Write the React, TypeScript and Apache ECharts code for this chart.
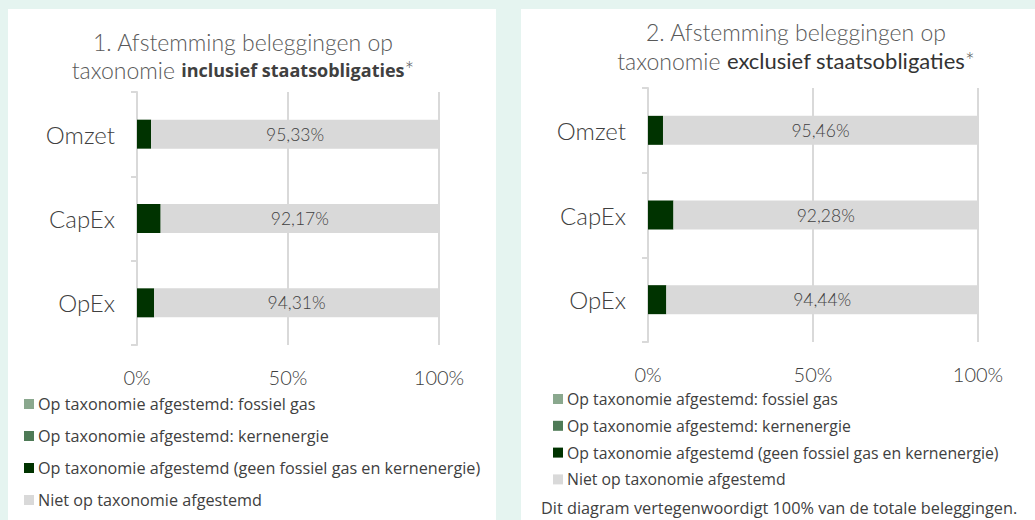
import React, { useEffect, useRef } from "react";
import * as echarts from "echarts";

const categories = ["Omzet", "CapEx", "OpEx"];
const seriesNames = [
  "Op taxonomie afgestemd: fossiel gas",
  "Op taxonomie afgestemd: kernenergie",
  "Op taxonomie afgestemd (geen fossiel gas en kernenergie)",
  "Niet op taxonomie afgestemd",
];
const seriesColors = ["#8aa88e", "#4e7a56", "#003300", "#d9d9d9"];

// Chart 1: inclusief staatsobligaties
const incFossilGas = [0, 0, 0];
const incNuclear = [0, 0, 0];
const incAligned = [4.67, 7.83, 5.69];
const incNotAligned = [95.33, 92.17, 94.31];

// Chart 2: exclusief staatsobligaties
const excFossilGas = [0, 0, 0];
const excNuclear = [0, 0, 0];
const excAligned = [4.54, 7.72, 5.56];
const excNotAligned = [95.46, 92.28, 94.44];

const xTicks = [0, 50, 100];

const TEXT = "#404040";
const GRID = "#d9d9d9";
const FONT = "Lato, 'Open Sans', sans-serif";
const LEGEND_FONT = "'Open Sans', 'Noto Sans', sans-serif";

const fmt = (v: number) => v.toFixed(2).replace(".", ",") + "%";

export default function App() {
  const ref = useRef<HTMLDivElement>(null);
  useEffect(() => {
    if (!ref.current) return;
    const chart = echarts.init(ref.current, undefined, { renderer: "svg" });

    const makeSeries = (idx: number, data: number[][]) =>
      data.map((d, i) => ({
        name: seriesNames[i],
        type: "bar",
        stack: "s" + idx,
        xAxisIndex: idx,
        yAxisIndex: idx,
        barWidth: 29,
        data: d,
        itemStyle: { color: seriesColors[i] },
        label:
          i === 3
            ? {
                show: true,
                position: "inside",
                formatter: (p: any) => fmt(p.value),
                color: TEXT,
                fontSize: 17.5,
                fontFamily: FONT,
                fontWeight: 300,
              }
            : { show: false },
      }));

    const xAxis = (idx: number) => ({
      type: "value",
      gridIndex: idx,
      min: xTicks[0],
      max: xTicks[xTicks.length - 1],
      interval: xTicks[1] - xTicks[0],
      axisLine: { show: false },
      axisTick: { show: false },
      splitLine: { show: true, lineStyle: { color: GRID, width: 2 } },
      axisLabel: {
        color: TEXT,
        fontSize: 20,
        fontFamily: FONT,
        fontWeight: 300,
        margin: 22,
        formatter: (v: number) => v + "%",
      },
    });

    const yAxis = (idx: number) => ({
      type: "category",
      gridIndex: idx,
      data: categories,
      inverse: true,
      axisLine: { show: true, lineStyle: { color: GRID, width: 2 } },
      axisTick: { show: true, length: 6, lineStyle: { color: GRID, width: 2 } },
      axisLabel: {
        color: TEXT,
        fontSize: 24,
        fontFamily: FONT,
        fontWeight: 300,
        margin: 22,
      },
    });

    const legend = (top: number, left: number, gap: number, size: number) => ({
      orient: "vertical",
      left,
      top,
      itemWidth: 10,
      itemHeight: 10,
      itemGap: gap,
      icon: "rect",
      data: seriesNames,
      selectedMode: false,
      textStyle: {
        color: TEXT,
        fontSize: size,
        fontFamily: LEGEND_FONT,
        lineHeight: 16,
        padding: [0, 0, 0, -1],
      },
    });

    chart.setOption({
      animation: false,
      backgroundColor: "#e5f4f0",
      graphic: [
        { type: "rect", z: 0, shape: { x: 8, y: 9, width: 488, height: 520 }, style: { fill: "#ffffff" } },
        { type: "rect", z: 0, shape: { x: 521, y: 9, width: 520, height: 520 }, style: { fill: "#ffffff" } },
        {
          type: "text",
          z: 1,
          x: 243,
          y: 28,
          style: {
            text: "1. Afstemming beleggingen op\ntaxonomie {b|inclusief staatsobligaties}*",
            align: "center",
            fill: "#595959",
            fontSize: 23,
            fontFamily: FONT,
            fontWeight: 300,
            lineHeight: 28,
            rich: {
              b: {
                fontSize: 18,
                fontWeight: "bold",
                fontFamily: LEGEND_FONT,
                fill: "#404040",
                lineHeight: 28,
              },
            },
          },
        },
        {
          type: "text",
          z: 1,
          x: 796,
          y: 17,
          style: {
            text: "2. Afstemming beleggingen op\ntaxonomie {b|exclusief staatsobligaties}*",
            align: "center",
            fill: "#595959",
            fontSize: 23,
            fontFamily: FONT,
            fontWeight: 300,
            lineHeight: 29,
            rich: {
              b: {
                fontSize: 22,
                fontWeight: "normal",
                fontFamily: FONT,
                fill: "#333333",
                lineHeight: 29,
              },
            },
          },
        },
        {
          type: "text",
          z: 1,
          x: 541,
          y: 508,
          style: {
            text: "Dit diagram vertegenwoordigt 100% van de totale beleggingen.",
            fill: TEXT,
            fontSize: 16.3,
            fontFamily: LEGEND_FONT,
            verticalAlign: "middle",
          },
        },
      ],
      grid: [
        { left: 137, right: 596, top: 92, bottom: 175 },
        { left: 648, right: 57, top: 88, bottom: 178 },
      ],
      xAxis: [xAxis(0), xAxis(1)],
      yAxis: [yAxis(0), yAxis(1)],
      legend: [legend(391, 19, 16, 16.2), legend(386, 548, 10.8, 15.8)],
      series: [
        ...makeSeries(0, [incFossilGas, incNuclear, incAligned, incNotAligned]),
        ...makeSeries(1, [excFossilGas, excNuclear, excAligned, excNotAligned]),
      ],
    });
    return () => chart.dispose();
  }, []);
  return (
    <div
      ref={ref}
      style={{ position: "fixed", left: 0, top: 0, width: 1035, height: 520 }}
    />
  );
}
